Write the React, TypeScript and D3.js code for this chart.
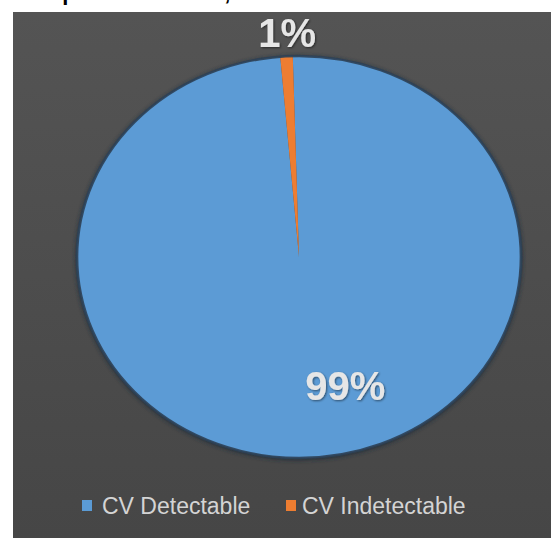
import React from "react";
import * as d3 from "d3";

const categories = ["CV Detectable", "CV Indetectable"];
const values = [99.1, 0.9];
const valueLabels = ["99%", "1%"];
const colors = ["#5b9bd5", "#ed7d31"];
const titleText = "Respuesta de la CV, n=140";

const W = 551;
const H = 538;

export default function App() {
  const cx = 299;
  const cy = 257;
  const r = 201;
  const sx = 222 / 201;

  const pie = d3
    .pie<number>()
    .sort(null)
    .startAngle(-0.028)
    .endAngle(-0.028 + Math.PI * 2);
  const arcs = pie(values);
  const arc = d3.arc<d3.PieArcDatum<number>>().innerRadius(0).outerRadius(r);
  const outerLabelArc = d3
    .arc<d3.PieArcDatum<number>>()
    .innerRadius(r * 1.115)
    .outerRadius(r * 1.115);
  const innerLabelArc = d3
    .arc<d3.PieArcDatum<number>>()
    .innerRadius(r * 0.66)
    .outerRadius(r * 0.66);

  const labelPos = arcs.map((a, i) => {
    if (i === 1) {
      const [x, y] = outerLabelArc.centroid(a);
      return [cx + x * sx + 2, cy + y];
    }
    const [x, y] = innerLabelArc.centroid(a);
    return [cx + x * sx + 38, cy + y - 3];
  });

  const legendY = 506;
  const legendItems = [
    { x: 82, tx: 102 },
    { x: 286, tx: 302 },
  ];

  return (
    <svg
      width={W}
      height={H}
      style={{ position: "absolute", left: 0, top: 0 }}
      xmlns="http://www.w3.org/2000/svg"
    >
      <defs>
        <linearGradient id="bg" x1="0" y1="0" x2="0" y2="1">
          <stop offset="0" stopColor="#545454" />
          <stop offset="1" stopColor="#464646" />
        </linearGradient>
        <filter id="shadow" x="-10%" y="-10%" width="120%" height="120%">
          <feGaussianBlur in="SourceAlpha" stdDeviation="2" />
          <feOffset dx="0" dy="1" result="b" />
          <feFlood floodColor="#1c2a38" floodOpacity="0.9" />
          <feComposite in2="b" operator="in" />
          <feMerge>
            <feMergeNode />
            <feMergeNode in="SourceGraphic" />
          </feMerge>
        </filter>
        <filter id="tshadow" x="-20%" y="-20%" width="140%" height="140%">
          <feGaussianBlur in="SourceAlpha" stdDeviation="1.2" />
          <feOffset dx="1" dy="1" result="b" />
          <feFlood floodColor="#000" floodOpacity="0.5" />
          <feComposite in2="b" operator="in" />
          <feMerge>
            <feMergeNode />
            <feMergeNode in="SourceGraphic" />
          </feMerge>
        </filter>
      </defs>
      <rect x={0} y={0} width={W} height={H} fill="#ffffff" />
      <text
        x={22}
        y={0}
        fontFamily="Liberation Sans, Arial, sans-serif"
        fontWeight="bold"
        fontSize={22}
        fill="#000"
      >
        {titleText}
      </text>
      <rect x={13} y={12} width={W - 13} height={H - 12} fill="url(#bg)" />

      <g transform={`translate(${cx},${cy}) scale(${sx},1)`} filter="url(#shadow)">
        {arcs.map((a, i) => (
          <path key={categories[i]} d={arc(a) || ""} fill={colors[i]} />
        ))}
        <ellipse rx={r} ry={r} fill="none" stroke="#2e4157" strokeWidth={2.4} opacity={0.9} />
      </g>

      {arcs.map((a, i) => (
        <text
          key={"l" + i}
          x={labelPos[i][0]}
          y={labelPos[i][1]}
          textAnchor="middle"
          dominantBaseline="central"
          fontFamily="Liberation Sans, Arial, sans-serif"
          fontWeight="bold"
          fontSize={40}
          fill="#e6e6e6"
          filter="url(#tshadow)"
        >
          {valueLabels[i]}
        </text>
      ))}

      {categories.map((c, i) => (
        <g key={"lg" + c}>
          <rect
            x={legendItems[i].x}
            y={legendY - 6}
            width={10}
            height={11}
            fill={colors[i]}
          />
          <text
            x={legendItems[i].tx}
            y={legendY}
            dominantBaseline="central"
            fontFamily="Liberation Sans, Arial, sans-serif"
            fontSize={23}
            fill="#d4d4d4"
          >
            {c}
          </text>
        </g>
      ))}
    </svg>
  );
}
